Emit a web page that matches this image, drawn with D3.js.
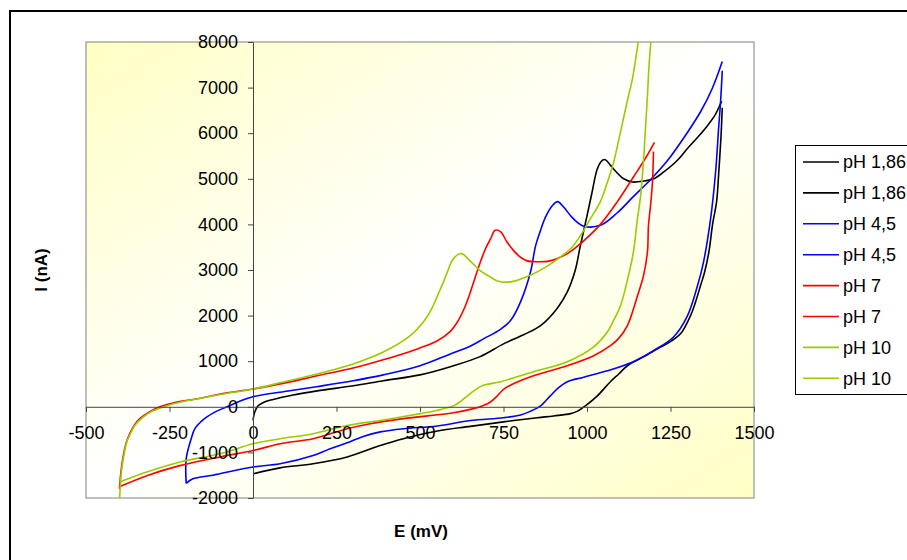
<!DOCTYPE html>
<html>
<head>
<meta charset="utf-8">
<script src="https://cdn.jsdelivr.net/npm/d3@7"></script>
<style>
  body { margin: 0; background: #fff; }
  text { font-family: "Liberation Sans", Arial, sans-serif; }
</style>
</head>
<body>
<div id="plot"></div>
<script>
// E (mV), I (nA) pairs
let ph186Fwd = [[0,-300],[5,-120],[15,20],[30,90],[60,160],[120,260],[192,350],[300,460],[390,570],[500,700],[591,880],[680,1100],[750,1380],[810,1580],[861,1780],[910,2150],[941,2520],[965,3000],[980,3530],[998,4120],[1015,4700],[1031,5220],[1045,5400],[1055,5420],[1070,5300],[1085,5170],[1110,5000],[1136,4930],[1170,4950],[1200,5000],[1230,5150],[1270,5400],[1300,5660],[1330,5900],[1360,6160],[1385,6420],[1403,6700]];
let ph186Rev = [[1405,6560],[1401,5900],[1395,5200],[1388,4500],[1376,4000],[1365,3400],[1352,2950],[1340,2660],[1325,2300],[1310,2000],[1280,1600],[1250,1430],[1220,1310],[1170,1100],[1121,900],[1095,720],[1070,550],[1031,240],[995,20],[970,-100],[951,-150],[900,-200],[852,-240],[750,-330],[651,-430],[552,-530],[450,-700],[381,-850],[282,-1100],[180,-1250],[81,-1340],[0,-1470]];
let ph45Fwd = [[-200,-1680],[-200,-1140],[-185,-700],[-174,-480],[-155,-320],[-138,-220],[-110,-100],[-78,0],[-40,120],[0,220],[100,340],[190,440],[300,570],[390,700],[500,900],[591,1160],[650,1330],[690,1490],[741,1700],[771,1890],[801,2300],[831,2960],[846,3530],[860,3850],[875,4150],[896,4410],[912,4500],[930,4380],[951,4190],[970,4050],[990,3960],[1040,3980],[1090,4250],[1140,4620],[1190,4980],[1241,5400],[1290,5900],[1340,6470],[1375,6980],[1405,7570]];
let ph45Rev = [[1405,7370],[1400,6700],[1394,6100],[1385,5150],[1370,4120],[1349,3180],[1331,2660],[1301,2000],[1259,1530],[1199,1230],[1139,990],[1061,790],[990,650],[941,550],[915,420],[890,240],[861,20],[830,-100],[801,-180],[750,-240],[651,-300],[552,-420],[450,-480],[381,-550],[330,-650],[282,-790],[231,-920],[180,-1070],[81,-1250],[0,-1320],[-120,-1500],[-180,-1580],[-200,-1680]];
let ph7Fwd = [[-400,-1800],[-395,-1400],[-390,-1140],[-380,-800],[-369,-590],[-355,-400],[-339,-260],[-310,-110],[-279,0],[-230,100],[-168,175],[-90,290],[0,390],[100,530],[192,680],[300,850],[390,1030],[492,1270],[552,1450],[590,1650],[612,1860],[635,2200],[651,2520],[668,2900],[681,3180],[697,3480],[711,3680],[725,3870],[741,3840],[760,3620],[781,3420],[801,3280],[821,3200],[851,3180],[890,3200],[941,3360],[990,3640],[1040,4000],[1091,4500],[1139,5040],[1175,5450],[1202,5800]];
let ph7Rev = [[1199,5600],[1196,4930],[1190,4400],[1184,3970],[1181,3400],[1169,2870],[1151,2430],[1121,1780],[1095,1500],[1070,1340],[1020,1120],[941,900],[840,680],[800,570],[775,490],[750,380],[730,230],[710,100],[690,30],[660,-40],[600,-130],[450,-260],[351,-370],[282,-480],[180,-700],[81,-810],[0,-960],[-99,-1100],[-219,-1290],[-318,-1510],[-399,-1750]];
let ph10Fwd = [[-400,-2100],[-397,-1700],[-393,-1360],[-385,-1000],[-378,-770],[-365,-560],[-354,-410],[-330,-230],[-300,-90],[-260,20],[-219,100],[-150,200],[-80,290],[0,390],[100,560],[192,720],[300,940],[390,1200],[471,1560],[510,1860],[535,2150],[552,2430],[568,2700],[582,2960],[600,3250],[624,3360],[650,3200],[681,2980],[710,2850],[732,2760],[771,2740],[840,2920],[880,3080],[921,3290],[955,3500],[980,3750],[1010,4120],[1040,4500],[1060,4900],[1080,5370],[1095,5850],[1109,6320],[1122,6750],[1136,7190],[1154,8030],[1160,8300]];
let ph10Rev = [[1195,8300],[1190,7900],[1185,7400],[1181,6820],[1175,6100],[1169,5370],[1160,4600],[1151,4120],[1139,3400],[1124,2870],[1100,2210],[1080,1900],[1061,1640],[1019,1310],[941,990],[840,770],[741,550],[690,470],[665,370],[642,240],[620,110],[600,20],[550,-80],[501,-150],[381,-300],[282,-410],[180,-590],[81,-700],[0,-810],[-99,-1030],[-219,-1210],[-318,-1430],[-399,-1650]];

let seriesNames = ['pH 1,86','pH 1,86','pH 4,5','pH 4,5','pH 7','pH 7','pH 10','pH 10'];
let seriesColors = ['#000000','#000000','#0000ff','#0000ff','#ff0000','#ff0000','#99cc00','#99cc00'];
let seriesData = [ph186Fwd, ph186Rev, ph45Fwd, ph45Rev, ph7Fwd, ph7Rev, ph10Fwd, ph10Rev];
let xTicks = [-500,-250,0,250,500,750,1000,1250,1500];
let yTicks = [-2000,-1000,0,1000,2000,3000,4000,5000,6000,7000,8000];

let svgWidth = 907;
let svgHeight = 560;
let margin = { top: 42, left: 86 };
let width = 668;
let height = 456;

let svg = d3.select('#plot')
    .append('svg')
        .attr('width',svgWidth)
        .attr('height',svgHeight);

// outer chart frame
svg.append('rect')
    .attr('x',10).attr('y',11)
    .attr('width',1000).attr('height',700)
    .attr('fill','#fff')
    .attr('stroke','#000')
    .attr('stroke-width',2);

let grad = svg.append('defs').append('linearGradient')
    .attr('id','bg')
    .attr('x1',0).attr('y1',0).attr('x2',1).attr('y2',1);
grad.append('stop').attr('offset','0%').attr('stop-color','#ffffc4');
grad.append('stop').attr('offset','50%').attr('stop-color','#ffffff');
grad.append('stop').attr('offset','100%').attr('stop-color','#ffffc4');

svg.select('defs').append('clipPath').attr('id','clip')
    .append('rect').attr('width',width).attr('height',height);

let chart = svg.append('g')
    .attr('transform',`translate(${margin.left},${margin.top})`);

chart.append('rect')
    .attr('width',width).attr('height',height)
    .attr('fill','url(#bg)')
    .attr('stroke','#808080')
    .attr('stroke-width',1);

let x = d3.scaleLinear().domain([-500,1500]).range([0,width]);
let y = d3.scaleLinear().domain([-2000,8000]).range([height,0]);

let line = d3.line()
    .x(d=>x(d[0]))
    .y(d=>y(d[1]))
    .curve(d3.curveCatmullRom.alpha(0.5));

let curves = chart.append('g').attr('clip-path','url(#clip)');
seriesData.forEach(function(s,i){
    curves.append('path')
        .datum(s)
        .attr('d',line)
        .attr('fill','none')
        .attr('stroke',seriesColors[i])
        .attr('stroke-width',1.6);
});

let plain = d => String(d);
let xAxis = d3.axisBottom(x).tickValues(xTicks).tickFormat(plain).tickSize(5).tickPadding(14).tickSizeOuter(0);
let yAxis = d3.axisLeft(y).tickValues(yTicks).tickFormat(plain).tickSize(5).tickPadding(10).tickSizeOuter(0);

let gx = chart.append('g')
    .attr('transform',`translate(0,${y(0)})`)
    .call(xAxis);
let gy = chart.append('g')
    .attr('transform',`translate(${x(0)},0)`)
    .call(yAxis);

[gx,gy].forEach(function(g){
    g.selectAll('path').attr('stroke','#444');
    g.selectAll('line').attr('stroke','#444');
    g.selectAll('text')
        .attr('font-size',18)
        .attr('fill','#000')
        .style('font-family','"Liberation Sans", Arial, sans-serif');
});

svg.append('text')
    .attr('transform','translate(47,270) rotate(-90)')
    .attr('text-anchor','middle')
    .attr('font-size',17)
    .attr('font-weight','bold')
    .text('I (nA)');

svg.append('text')
    .attr('x',421).attr('y',537)
    .attr('text-anchor','middle')
    .attr('font-size',17)
    .attr('font-weight','bold')
    .text('E (mV)');

// legend
let legend = svg.append('g');
legend.append('rect')
    .attr('x',795.5).attr('y',145.5)
    .attr('width',200).attr('height',249)
    .attr('fill','#fff')
    .attr('stroke','#000');

seriesNames.forEach(function(name,i){
    let yy = 162 + i*30.9;
    legend.append('line')
        .attr('x1',803).attr('x2',839)
        .attr('y1',yy).attr('y2',yy)
        .attr('stroke',seriesColors[i])
        .attr('stroke-width',1.6);
    legend.append('text')
        .attr('x',843).attr('y',yy)
        .attr('dy','0.35em')
        .attr('font-size',18)
        .text(name);
});
</script>
</body>
</html>
